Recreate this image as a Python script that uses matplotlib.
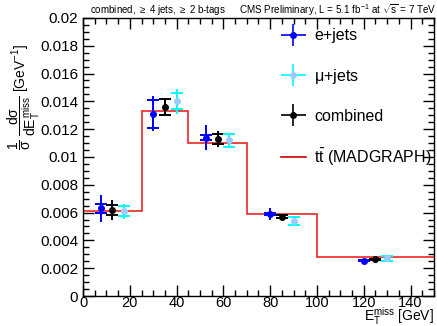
import matplotlib
matplotlib.use("Agg")
import matplotlib.pyplot as plt
import numpy as np
from matplotlib.lines import Line2D
from matplotlib.container import ErrorbarContainer
from matplotlib.legend_handler import HandlerErrorbar

plt.rcParams['font.family'] = ['Liberation Sans', 'DejaVu Sans']
plt.rcParams['mathtext.fontset'] = 'custom'
plt.rcParams['mathtext.rm'] = 'Liberation Sans'
plt.rcParams['mathtext.it'] = 'Liberation Sans'
plt.rcParams['mathtext.sf'] = 'Liberation Sans'

# bin edges and MadGraph prediction
edges = [0, 25, 45, 70, 100, 150]
madgraph = [0.0061, 0.0133, 0.0110, 0.0059, 0.0028]

# e+jets
e_val = [0.0063, 0.0131, 0.0114, 0.0059, 0.00255]
e_stat = [0.0003, 0.00103, 0.0002, 0.0001, 0.00005]
e_tot = [0.00095, 0.00125, 0.00093, 0.00045, 0.00015]

# mu+jets
mu_val = [0.0061, 0.0140, 0.0112, 0.0054, 0.0027]
mu_stat = [0.00035, 0.00058, 0.00048, 0.0003, 0.0002]
mu_tot = [0.00055, 0.0009, 0.00055, 0.00035, 0.0002]

# combined
comb_val = [0.0062, 0.0136, 0.0113, 0.0057, 0.00264]
comb_stat = [0.00035, 0.00055, 0.00037, 0.0001, 0.00005]
comb_tot = [0.00072, 0.00058, 0.0006, 0.00015, 0.0001]

centers = (np.array(edges[:-1]) + np.array(edges[1:])) / 2.0
shift = 5.0

fig = plt.figure(figsize=(4.37, 3.26), dpi=100)
ax = fig.add_axes([0.19, 0.092, 0.803, 0.853])

ax.stairs(madgraph, edges, color='#ee1111', lw=1.1, baseline=None, zorder=2)

series = [
    (centers - shift, e_val, e_stat, e_tot, 'blue', 'blue'),
    (centers, comb_val, comb_stat, comb_tot, 'black', 'black'),
    (centers + shift, mu_val, mu_stat, mu_tot, 'cyan', '#99ccff'),
]
for x, v, st, tot, col, mcol in series:
    ax.errorbar(x, v, yerr=tot, fmt='none', ecolor=col, elinewidth=1.4,
                capsize=0, zorder=3)
    ax.errorbar(x, v, yerr=st, fmt='o', color=col, mfc=mcol, mec=mcol,
                ms=4, elinewidth=1.4, capsize=4, capthick=1.4, zorder=4)

# legend handles
h_e = ax.errorbar([], [], xerr=[], yerr=[], fmt='o', color='blue', ms=4, elinewidth=1.2)
h_mu = ax.errorbar([], [], xerr=[], yerr=[], fmt='o', color='cyan', mfc='#99ccff',
                   mec='#99ccff', ms=4, elinewidth=1.2)
h_c = ax.errorbar([], [], xerr=[], yerr=[], fmt='o', color='black', ms=4, elinewidth=1.2)
h_mg = Line2D([], [], color='#cc0000', lw=1.2)
ax.legend([h_e, h_mu, h_c, h_mg],
          ['e+jets', r'$\mu$+jets', 'combined', r'$\mathrm{t\bar{t}}$ (MADGRAPH)'],
          loc='upper left', bbox_to_anchor=(0.545, 0.985), frameon=False,
          fontsize=11.5, labelspacing=1.45, handlelength=1.6, handletextpad=0.5,
          borderaxespad=0.0,
          handler_map={ErrorbarContainer: HandlerErrorbar(xerr_size=0.8, yerr_size=0.7)})

ax.set_xlim(0, 150)
ax.set_ylim(0, 0.02)
ax.set_xticks(np.arange(0, 141, 20))
ax.set_xticks(np.arange(0, 151, 5), minor=True)
ax.set_yticks(np.arange(0, 0.0201, 0.002))
ax.set_yticks(np.arange(0, 0.0201, 0.0005), minor=True)
ax.set_yticklabels(['0', '0.002', '0.004', '0.006', '0.008', '0.01', '0.012',
                    '0.014', '0.016', '0.018', '0.02'])
ax.tick_params(which='both', direction='in', top=True, right=True, labelsize=11,
               width=1.0)
ax.tick_params(axis='x', pad=0.0, labelsize=10.5)
ax.tick_params(which='major', length=8)
ax.tick_params(which='minor', length=4)
for sp in ax.spines.values():
    sp.set_linewidth(1.0)

ax.set_xlabel(r'E$_{\mathrm{T}}^{\mathrm{miss}}$ [GeV]', fontsize=10, loc='right')
ax.xaxis.set_label_coords(1.0, -0.11)
ax.xaxis.label.set_va('bottom')
ax.set_ylabel(r'$\dfrac{1}{\sigma}\ \dfrac{\mathrm{d}\sigma}{\mathrm{d}E_{\mathrm{T}}^{\mathrm{miss}}}$ [GeV$^{-1}$]',
              fontsize=10, loc='top')
ax.yaxis.set_label_coords(-0.222, 0.905)
ax.yaxis.label.set_va('top')

fig.text(0.205, 0.968, r'combined, $\geq$ 4 jets, $\geq$ 2 b-tags', fontsize=7,
         ha='left', va='center')
fig.text(0.999, 0.968, r'CMS Preliminary, L = 5.1 fb$^{-1}$ at $\sqrt{s}$ = 7 TeV',
         fontsize=7.1, ha='right', va='center')

fig.savefig('out.png', dpi=100)
